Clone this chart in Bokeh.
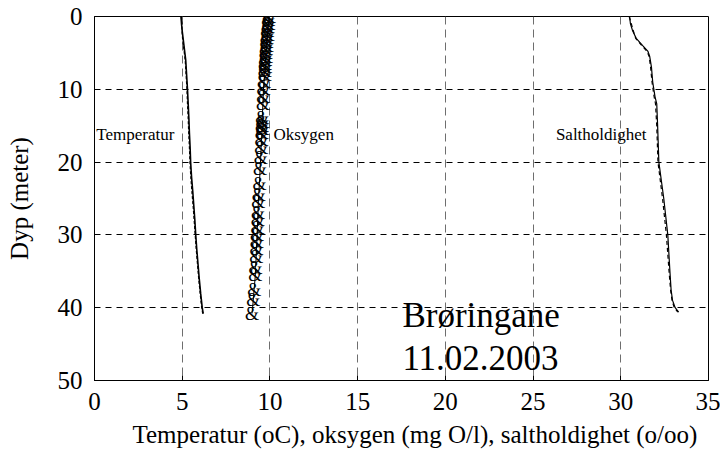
from bokeh.plotting import figure
from bokeh.models import Range1d, Label, FixedTicker, Title
from bokeh.core.properties import value
from bokeh.embed import file_html
from bokeh.resources import INLINE

FONT = "'Liberation Serif', 'Times New Roman', serif"

# Temperature profile (two casts)
temp_depth = [0, 1, 2, 3, 4, 5, 6, 8, 10, 12, 14, 16, 18, 20, 22, 24, 26, 28, 30, 32, 34, 36, 38, 40, 40.8]
temp_a = [4.93, 4.96, 5.0, 5.05, 5.1, 5.15, 5.2, 5.25, 5.3, 5.34, 5.38, 5.41, 5.45, 5.48, 5.53, 5.6, 5.66, 5.72, 5.77, 5.83, 5.9, 5.97, 6.05, 6.14, 6.2]
temp_b = [4.95, 4.98, 4.99, 5.02, 5.07, 5.12, 5.17, 5.22, 5.27, 5.3, 5.34, 5.37, 5.41, 5.44, 5.49, 5.55, 5.62, 5.68, 5.74, 5.8, 5.87, 5.94, 6.02, 6.11, 6.17]

# Oxygen profile
oxy_depth = [0, 0.5, 1, 1.5, 2, 2.5, 3, 3.5, 4, 4.5, 5, 5.5, 6, 6.5, 7, 7.5, 8, 9, 10, 11, 12,
             14, 14.5, 15, 15.5, 16, 17, 18, 19.5, 21, 23, 24.5, 25.5, 27, 28, 29, 30, 31,
             32, 33, 34.5, 35.5, 37.5, 39, 40.8]
oxy = [9.95, 9.9, 9.92, 9.88, 9.85, 9.87, 9.82, 9.8, 9.82, 9.78, 9.76, 9.78, 9.74, 9.72, 9.74, 9.7, 9.7, 9.66, 9.63, 9.62, 9.6,
       9.56, 9.58, 9.55, 9.57, 9.54, 9.52, 9.5, 9.47, 9.44, 9.4, 9.36, 9.34, 9.32, 9.3, 9.29, 9.27, 9.25,
       9.23, 9.22, 9.18, 9.17, 9.1, 9.05, 8.98]

# Salinity profile (two casts)
sal_depth = [0, 1, 2, 3, 4, 4.8, 5.5, 7, 9, 11, 12, 15, 20, 25, 30, 35, 37.6, 39, 40, 40.6]
sal_a = [30.5, 30.55, 30.68, 30.88, 31.25, 31.55, 31.65, 31.75, 31.82, 31.95, 32.05, 32.1, 32.17, 32.45, 32.68, 32.8, 32.87, 32.95, 33.1, 33.3]
sal_b = [30.48, 30.6, 30.72, 30.85, 31.2, 31.5, 31.62, 31.7, 31.78, 31.9, 31.98, 32.05, 32.12, 32.38, 32.6, 32.75, 32.84, 32.92, 33.05, 33.25]

x_ticks = [0, 5, 10, 15, 20, 25, 30, 35]
y_ticks = [0, 10, 20, 30, 40, 50]

p = figure(width=720, height=457, output_backend="svg", toolbar_location=None,
           x_range=Range1d(0, 35), y_range=Range1d(50, 0))
p.min_border_left = 94
p.min_border_right = 12
p.min_border_top = 16
p.min_border_bottom = 77
p.background_fill_color = "white"
p.border_fill_color = "white"
p.outline_line_color = "black"
p.outline_line_width = 1

p.xaxis.ticker = FixedTicker(ticks=x_ticks)
p.yaxis.ticker = FixedTicker(ticks=y_ticks)
for ax in (p.xaxis[0], p.yaxis[0]):
    ax.axis_line_color = "black"
    ax.major_tick_line_color = "black"
    ax.major_tick_in = 5
    ax.major_tick_out = 0
    ax.minor_tick_line_color = None
    ax.major_label_text_font = FONT
    ax.major_label_text_font_size = "25px"
    ax.major_label_text_color = "black"
    ax.axis_label_text_font = FONT
    ax.axis_label_text_font_size = "25px"
    ax.axis_label_text_font_style = "normal"
    ax.axis_label_text_color = "black"

p.yaxis.axis_label = "Dyp (meter)"
p.xaxis.major_label_standoff = 12
p.yaxis.major_label_standoff = 12
p.yaxis.axis_label_standoff = 22

# x-axis title sits below the tick labels, shifted right of the frame centre
p.add_layout(Title(text="Temperatur (oC), oksygen (mg O/l), saltholdighet (o/oo)",
                   align="left", offset=38, standoff=12, text_font=FONT,
                   text_font_size="25px", text_font_style="normal", text_color="black"), "below")

p.xgrid.grid_line_color = "#6e6e6e"
p.xgrid.grid_line_dash = "8 5"
p.ygrid.grid_line_color = "black"
p.ygrid.grid_line_dash = "6 5"

# Temperature
p.line(temp_a, temp_depth, line_color="black", line_width=1.6)
p.line(temp_b, temp_depth, line_color="black", line_width=1.2, line_dash="3 2")

# Oxygen
p.line(oxy, oxy_depth, line_color="black", line_width=1)
p.text(oxy, oxy_depth, text=["&"] * len(oxy), text_align="center", text_baseline="middle",
       text_font=value(FONT), text_font_size="18px", text_color="black")

# Salinity
p.line(sal_a, sal_depth, line_color="black", line_width=1.2)
p.line(sal_b, sal_depth, line_color="black", line_width=1.2, line_dash="4 3")

# Curve labels
for txt, x in (("Temperatur", 0.1), ("Oksygen", 10.2), ("Saltholdighet", 26.3)):
    p.add_layout(Label(x=x, y=16.2, text=txt, text_align="left", text_baseline="middle",
                       text_font=FONT, text_font_size="17px", text_color="black"))

p.add_layout(Label(x=17.55, y=41.1, text="Brøringane", text_align="left", text_baseline="alphabetic",
                   text_font=FONT, text_font_size="35px", text_color="black"))
p.add_layout(Label(x=17.55, y=46.85, text="11.02.2003", text_align="left", text_baseline="alphabetic",
                   text_font=FONT, text_font_size="35px", text_color="black"))

open("out.html", "w").write(file_html(p, INLINE))
